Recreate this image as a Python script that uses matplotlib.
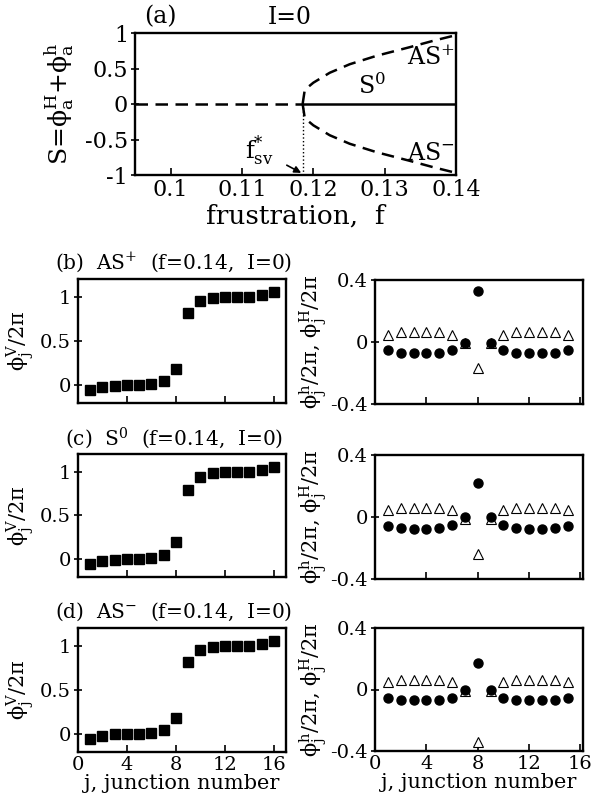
import matplotlib
matplotlib.use("Agg")
from matplotlib import pyplot as plt

# panel (a): bifurcation diagram
f_sv = 0.1185
f_left = [0.095, 0.1185]
s_left = [0.0, 0.0]
f_right = [0.1185, 0.14]
s_right = [0.0, 0.0]
f_branch = [0.1185, 0.1188, 0.1200, 0.1223, 0.1251, 0.1289, 0.1335, 0.1368, 0.1400]
s_plus = [0.0, 0.20, 0.30, 0.44, 0.56, 0.68, 0.80, 0.89, 0.97]
s_minus = [0.0, -0.20, -0.30, -0.44, -0.56, -0.68, -0.80, -0.89, -0.97]

# vertical phases phi_j^V / 2pi, j = 1..16
j_v = list(range(1, 17))
v_asp = [-0.05, -0.02, -0.01, 0.0, 0.005, 0.015, 0.05, 0.18,
         0.82, 0.95, 0.99, 1.0, 1.0, 1.0, 1.02, 1.05]
v_s0 = [-0.05, -0.02, -0.01, 0.0, 0.0, 0.015, 0.05, 0.20,
        0.79, 0.94, 0.985, 1.0, 1.0, 1.0, 1.015, 1.05]
v_asm = [-0.05, -0.015, 0.0, 0.0, 0.0, 0.01, 0.05, 0.18,
         0.82, 0.95, 0.99, 1.0, 1.0, 1.0, 1.02, 1.05]

# horizontal phases, j = 1..15
j_h = list(range(1, 16))
h_asp = [-0.054, -0.069, -0.071, -0.071, -0.069, -0.054, -0.006, 0.331,
         -0.006, -0.054, -0.069, -0.071, -0.071, -0.069, -0.054]
H_asp = [0.048, 0.063, 0.063, 0.063, 0.063, 0.048, -0.008, -0.169,
         -0.008, 0.048, 0.063, 0.063, 0.063, 0.063, 0.048]
h_s0 = [-0.058, -0.071, -0.075, -0.075, -0.071, -0.054, 0.0, 0.221,
        0.0, -0.054, -0.071, -0.075, -0.075, -0.071, -0.058]
H_s0 = [0.043, 0.06, 0.06, 0.06, 0.06, 0.043, -0.01, -0.237,
        -0.01, 0.043, 0.06, 0.06, 0.06, 0.06, 0.043]
h_asm = [-0.054, -0.069, -0.071, -0.071, -0.069, -0.054, -0.004, 0.173,
         -0.004, -0.054, -0.069, -0.071, -0.071, -0.069, -0.054]
H_asm = [0.05, 0.06, 0.06, 0.06, 0.06, 0.05, -0.008, -0.34,
         -0.008, 0.05, 0.06, 0.06, 0.06, 0.06, 0.05]

titles = [r"(b)  AS$^{+}$  (f=0.14,  I=0)",
          r"(c)  S$^{0}$  (f=0.14,  I=0)",
          r"(d)  AS$^{-}$  (f=0.14,  I=0)"]

plt.rcParams["font.family"] = ["DejaVu Serif"]
plt.rcParams["mathtext.fontset"] = "dejavuserif"
plt.rcParams["axes.linewidth"] = 1.7

W, H = 602, 800
fig = plt.figure(figsize=(W / 100, H / 100), dpi=100)

PHI = r"\mathrm{\phi}"
PI = r"\mathrm{\pi}"


def box(l, r, t, b):
    return [l / W, 1 - b / H, (r - l) / W, (b - t) / H]


def style(ax, size):
    ax.tick_params(axis="x", direction="in", length=5, width=1.2, labelsize=size, pad=3)
    ax.tick_params(axis="y", direction="inout", length=6, width=1.2, labelsize=size, pad=2)


# ---- panel (a)
ax = fig.add_axes(box(135, 456, 33, 175))
ax.plot(f_left, s_left, "k--", lw=1.8, dashes=(5, 3))
ax.plot(f_right, s_right, "k-", lw=1.8)
ax.plot(f_branch, s_plus, "k--", lw=1.8, dashes=(5, 3))
ax.plot(f_branch, s_minus, "k--", lw=1.8, dashes=(5, 3))
ax.plot([f_sv, f_sv], [-1, 0], "k:", lw=1.0)
ax.set_xlim(0.095, 0.14)
ax.set_ylim(-1, 1)
ax.set_xticks([0.1, 0.11, 0.12, 0.13, 0.14])
ax.set_xticklabels(["0.1", "0.11", "0.12", "0.13", "0.14"])
ax.set_yticks([-1, -0.5, 0, 0.5, 1])
ax.set_yticklabels(["-1", "-0.5", "0", "0.5", "1"])
style(ax, 16)
ax.set_xlabel("frustration,  f", fontsize=19, labelpad=2)
ax.set_ylabel(r"S=$" + PHI + r"_{\mathrm{a}}^{\mathrm{H}}$+$" + PHI + r"_{\mathrm{a}}^{\mathrm{h}}$",
              fontsize=18)
ax.yaxis.set_label_coords(-0.185, 0.5)
ax.text(0.1365, 0.65, r"AS$^{+}$", fontsize=17, ha="center", va="center")
ax.text(0.1282, 0.25, r"S$^{0}$", fontsize=17, ha="center", va="center")
ax.text(0.1365, -0.70, r"AS$^{-}$", fontsize=17, ha="center", va="center")
ax.annotate(r"f$^{*}_{\mathrm{sv}}$", xy=(0.1183, -0.97), xytext=(0.1125, -0.66),
            fontsize=17, ha="center", va="center",
            arrowprops=dict(arrowstyle="-|>", color="k", lw=1.2, shrinkA=8, shrinkB=0,
                            mutation_scale=10))
fig.text(160 / W, 1 - 17 / H, "(a)", fontsize=17, ha="center", va="center")
fig.text(290 / W, 1 - 17 / H, "I=0", fontsize=17, ha="center", va="center")

# ---- panels (b)-(d)
left_rows = [(279, 403), (454, 577), (628, 752)]
right_rows = [(280, 404), (455, 579), (628, 751)]
v_sets = [v_asp, v_s0, v_asm]
h_sets = [h_asp, h_s0, h_asm]
H_sets = [H_asp, H_s0, H_asm]

for k in range(3):
    t, b = left_rows[k]
    axl = fig.add_axes(box(78, 286, t, b))
    axl.plot(j_v, v_sets[k], "ks", ms=6.5)
    axl.set_xlim(0, 17)
    axl.set_ylim(-0.2, 1.2)
    axl.set_xticks([0, 4, 8, 12, 16])
    axl.set_yticks([0, 0.5, 1])
    axl.set_yticklabels(["0", "0.5", "1"])
    style(axl, 14)
    axl.set_ylabel(r"$" + PHI + r"_{\mathrm{j}}^{\mathrm{V}}$/2$" + PI + "$", fontsize=15)
    axl.yaxis.set_label_coords(-0.2, 0.5)
    axl.text(0.46, 1.13, titles[k], transform=axl.transAxes, fontsize=14.5,
             ha="center", va="center")

    t, b = right_rows[k]
    axr = fig.add_axes(box(375, 583, t, b))
    axr.plot(j_h, H_sets[k], "k^", ms=7, mfc="white", mew=0.8)
    axr.plot(j_h, h_sets[k], "ko", ms=6.5)
    axr.set_xlim(0, 16.2)
    axr.set_ylim(-0.4, 0.4)
    axr.set_xticks([0, 4, 8, 12, 16])
    axr.set_yticks([-0.4, 0, 0.4])
    axr.set_yticklabels(["-0.4", "0", "0.4"])
    style(axr, 14)
    axr.set_ylabel(r"$" + PHI + r"_{\mathrm{j}}^{\mathrm{h}}$/2$" + PI + r"$, $" + PHI
                   + r"_{\mathrm{j}}^{\mathrm{H}}$/2$" + PI + "$", fontsize=15)
    axr.yaxis.set_label_coords(-0.22, 0.5)

    if k < 2:
        axl.set_xticklabels([])
        axr.set_xticklabels([])
    else:
        axl.set_xticklabels(["0", "4", "8", "12", "16"])
        axr.set_xticklabels(["0", "4", "8", "12", "16"])
        axl.set_xlabel("j, junction number", fontsize=15, labelpad=0)
        axr.set_xlabel("j, junction number", fontsize=15, labelpad=0)

fig.savefig("out.png", dpi=100)
